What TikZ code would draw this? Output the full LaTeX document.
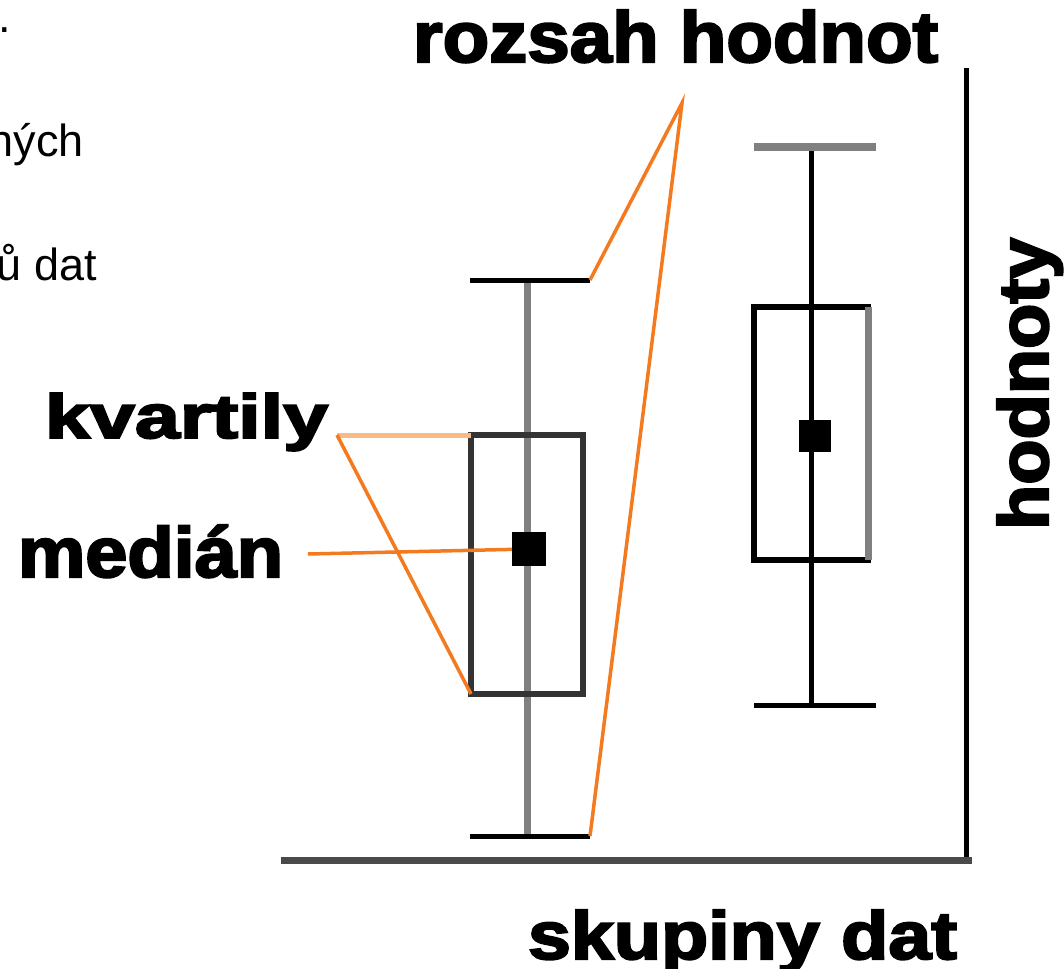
\documentclass[tikz,border=0pt]{standalone}
\usepackage{fontspec}
\usepackage{graphicx}
\setmainfont{Liberation Sans}
\newfontfamily\heavyfont[FakeBold=3]{Liberation Sans}
\newcommand{\fitlabel}[3]{\resizebox{#1pt}{#2pt}{\heavyfont\bfseries #3}}
\definecolor{orng}{HTML}{F47A1F}
\definecolor{orlight}{HTML}{FBBA84}
\definecolor{midgray}{HTML}{808080}
\definecolor{boxdark}{HTML}{333333}
\definecolor{axisdark}{HTML}{4A4A4A}
\tikzset{
  lbl/.style={inner sep=0pt, outer sep=0pt},
  bodytext/.style={inner sep=0pt, outer sep=0pt, font=\fontsize{45}{54}\selectfont},
  vaxis/.style={draw=black, line width=5pt},
  haxis/.style={draw=axisdark, line width=7pt},
  graywhisker/.style={draw=midgray, line width=7pt},
  blackwhisker/.style={draw=black, line width=5pt},
  blackcap/.style={draw=black, line width=5pt},
  graycap/.style={draw=midgray, line width=8pt},
  leftbox/.style={draw=boxdark, line width=6pt, inner sep=0pt, outer sep=0pt, fill=none},
  rightbox/.style={draw=black, line width=6pt, inner sep=0pt, outer sep=0pt, fill=none},
  grayedge/.style={draw=midgray, line width=7pt},
  medsq/.style={fill=black, draw=none, inner sep=0pt, outer sep=0pt},
  orline/.style={draw=orng, line width=3.5pt},
  orlightline/.style={draw=orlight, line width=5pt},
}
\begin{document}
\begin{tikzpicture}[x=1pt,y=-1pt]
\useasboundingbox (0,0) rectangle (1064,968);

% fragments of body text at the left edge
\node[bodytext, anchor=base east] (dot) at (11,33) {.};
\node[bodytext, anchor=base east] (nych) at (84,157) {ných};
\node[bodytext, anchor=base east] (udat) at (97,280) {ů dat};

% axes
\coordinate (yTop) at (966,68);
\coordinate (orig) at (966,860);
\coordinate (xLeft) at (281,860);
\coordinate (xRight) at (972,860);
\draw[vaxis] (yTop) -- (orig);
\draw[haxis] (xLeft) -- (xRight);

% left box plot
\coordinate (LTop) at (527,280);
\coordinate (LBot) at (527,836);
\draw[graywhisker] (LTop) -- (LBot);
\coordinate (LtcL) at (470,280);
\coordinate (LtcR) at (590,280);
\coordinate (LbcL) at (470,836);
\coordinate (LbcR) at (590,836);
\draw[blackcap] (LtcL) -- (LtcR);
\draw[blackcap] (LbcL) -- (LbcR);
\node[leftbox, minimum width=112pt, minimum height=259pt] (Lbox) at (527,564.5) {};

% right box plot
\coordinate (RTop) at (811,147);
\coordinate (RBot) at (811,705);
\draw[blackwhisker] (RTop) -- (RBot);
\coordinate (RtcL) at (754,147);
\coordinate (RtcR) at (876,147);
\coordinate (RbcL) at (754,705);
\coordinate (RbcR) at (876,705);
\draw[graycap] (RtcL) -- (RtcR);
\draw[blackcap] (RbcL) -- (RbcR);
\node[rightbox, minimum width=114pt, minimum height=253pt] (Rbox) at (811,433.5) {};
\draw[grayedge] (Rbox.north east) -- (Rbox.south east);
\node[medsq, minimum width=32pt, minimum height=32pt] (Rmed) at (815,436) {};

% labels
\node[lbl, anchor=base west] (title) at (413,62) {\fitlabel{525}{52}{rozsah hodnot}};
\node[lbl, anchor=base west] (kvart) at (45,438) {\fitlabel{283}{45}{kvartily}};
\node[lbl, anchor=base west] (median) at (18,577) {\fitlabel{265}{52}{medián}};
\node[lbl, anchor=base west] (xlab) at (528,959) {\fitlabel{429}{49}{skupiny dat}};
\node[lbl, anchor=base west, rotate=90] (ylab) at (1048,530) {\fitlabel{292}{51}{hodnoty}};

% orange pointer lines
\coordinate (kv) at (337,435);
\coordinate (md) at (308,554);
\coordinate (rz) at (682,103);
\draw[orlightline] (kv) -- (Lbox.north west);
\draw[orline] (kv) -- (Lbox.south west);
\draw[orline] (md) -- (529,549);
\draw[orline, line join=miter] (LtcR) -- (rz) -- (LbcR);

\node[medsq, minimum width=34pt, minimum height=34pt] (Lmed) at (529,549) {};
\end{tikzpicture}
\end{document}
